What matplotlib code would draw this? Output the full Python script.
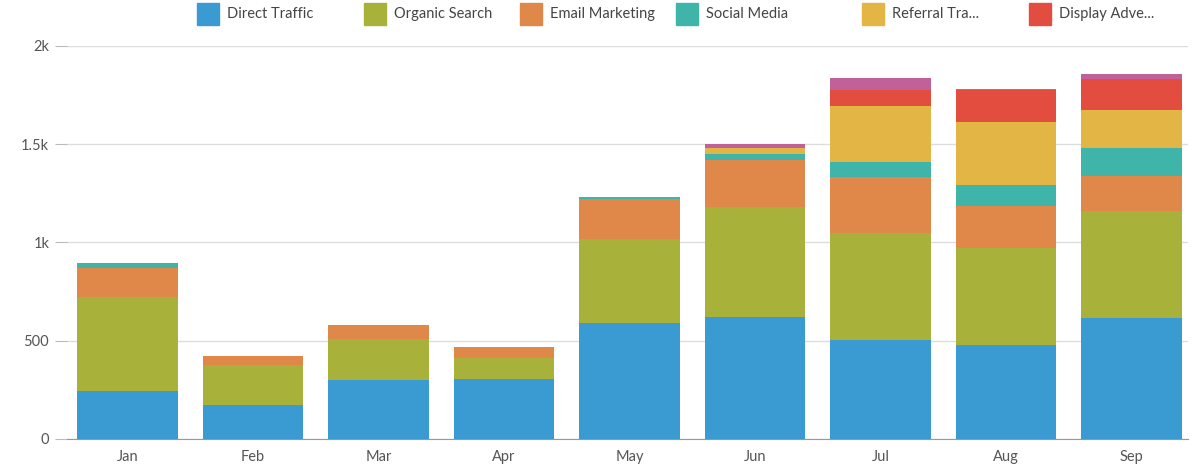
import matplotlib
matplotlib.use('Agg')
import matplotlib.pyplot as plt
from matplotlib.patches import Rectangle
from matplotlib.ticker import FuncFormatter
import numpy as np

plt.rcParams['font.family'] = ['Lato', 'DejaVu Sans']

months = ['Jan', 'Feb', 'Mar', 'Apr', 'May', 'Jun', 'Jul', 'Aug', 'Sep']

# stacked series, bottom to top
direct   = [244, 171, 300, 303, 590, 622, 503, 480, 614]
organic  = [479, 205, 208, 110, 427, 556, 546, 491, 545]
email    = [145,  48,  73,  56, 202, 242, 284, 215, 180]
social   = [ 25,   0,   0,   0,  10,  32,  74, 104, 142]
referral = [  0,   0,   0,   0,   0,  29, 287, 322, 192]
display  = [  0,   0,   0,   0,   0,   0,  84, 163, 159]
other    = [  0,   0,   0,   0,   0,  19,  61,   6,  25]

series = [direct, organic, email, social, referral, display, other]
names = ['Direct Traffic', 'Organic Search', 'Email Marketing', 'Social Media',
         'Referral Tra...', 'Display Adve...']
colors = ['#3a9bd3', '#a8b23b', '#e0884a', '#3fb4a9', '#e3b545', '#e24d40', '#c0619a']

fig = plt.figure(figsize=(12, 4.68), dpi=100)
ax = fig.add_axes([0.056, 0.062, 0.934, 0.840])

x = np.arange(len(months))
bottom = np.zeros(len(months))
for vals, c in zip(series, colors):
    ax.bar(x, vals, bottom=bottom, width=0.8, color=c, linewidth=0, zorder=3)
    bottom += np.array(vals)

ax.set_xlim(-0.48, 8.45)
ax.set_ylim(0, 2000)
ax.set_yticks([0, 500, 1000, 1500, 2000])
ax.yaxis.set_major_formatter(FuncFormatter(
    lambda v, p: '0' if v == 0 else ('%gk' % (v / 1000) if v >= 1000 else '%d' % v)))
ax.set_xticks(x)
ax.set_xticklabels(months)

ax.grid(axis='y', color='#dddddd', linewidth=1, zorder=0)
for s in ['top', 'right', 'left']:
    ax.spines[s].set_visible(False)
ax.spines['bottom'].set_color('#999999')
ax.tick_params(axis='y', length=9, color='#bbbbbb', labelsize=10.5, labelcolor='#555555', pad=4)
ax.tick_params(axis='x', length=0, labelsize=10.5, labelcolor='#555555', pad=8)

# legend drawn across the top
leg_x = [197, 364, 520, 676, 862, 1029]
for px, name, c in zip(leg_x, names, colors):
    fig.patches.append(Rectangle((px / 1200, 1 - 25 / 468), 22 / 1200, 22 / 468,
                                 transform=fig.transFigure, color=c))
    fig.text((px + 30) / 1200, 1 - 14 / 468, name, fontsize=10.5, color='#444444',
             va='center', ha='left')

plt.savefig('out.png', dpi=100)
